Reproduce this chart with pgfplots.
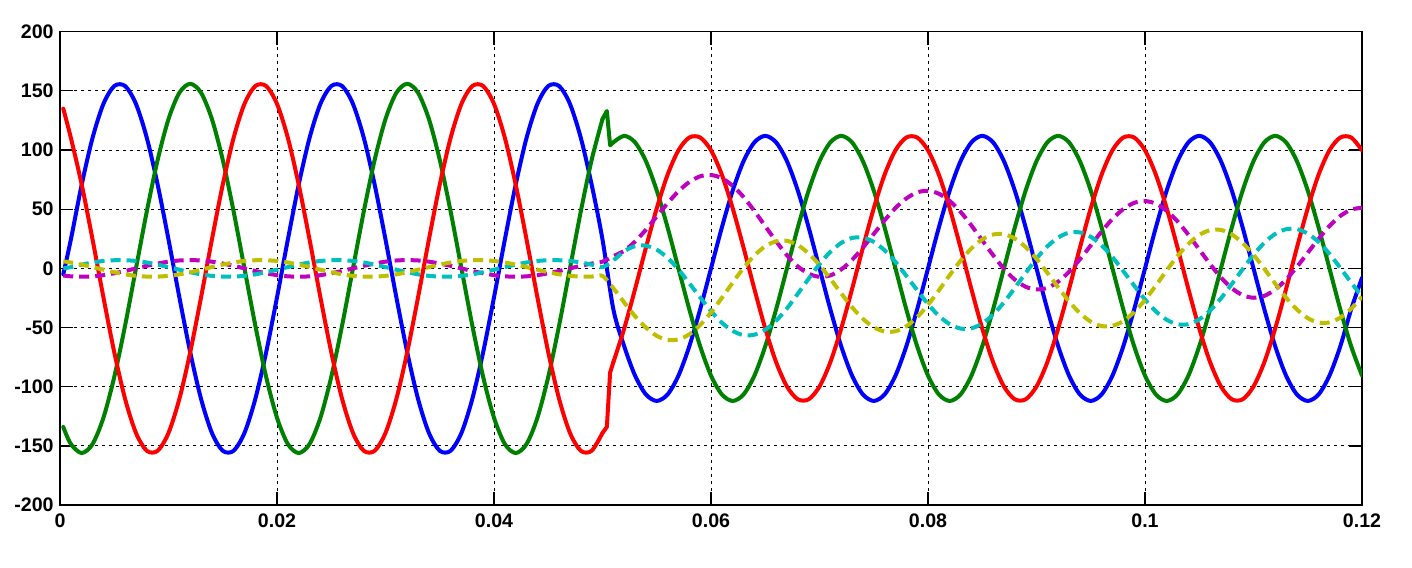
\documentclass[border=0pt]{standalone}
\usepackage{fontspec}
\setmainfont{Liberation Sans}
\usepackage{pgfplots}
\usepackage{pgfplotstable}
\pgfplotsset{compat=1.18}
\definecolor{mblue}{rgb}{0,0,1}
\definecolor{mgreen}{rgb}{0,0.5,0}
\definecolor{mred}{rgb}{1,0,0}
\definecolor{mmag}{rgb}{0.75,0,0.75}
\definecolor{mcyan}{rgb}{0,0.75,0.75}
\definecolor{myel}{rgb}{0.75,0.75,0}

% t [s], three phase currents (b g r) and three dashed signals (m c y)
\pgfplotstableread{
t b g r m c y
0.0003 -5 -134 135 -6 0 6
0.001 24.4 -148.4 110.3 -6.7 1.1 5.0
0.002 70.8 -156 70.8 -7.0 3.2 3.2
0.003 110.3 -148.4 24.4 -6.7 5.0 1.1
0.004 139.0 -126.2 -24.4 -5.7 6.3 -1.1
0.005 154.1 -91.7 -70.8 -4.1 6.9 -3.2
0.006 154.1 -48.2 -110.3 -2.2 6.9 -5.0
0.007 139.0 0 -139.0 0 6.3 -6.3
0.008 110.3 48.2 -154.1 2.2 5.0 -6.9
0.009 70.8 91.7 -154.1 4.1 3.2 -6.9
0.010 24.4 126.2 -139.0 5.7 1.1 -6.3
0.011 -24.4 148.4 -110.3 6.7 -1.1 -5.0
0.012 -70.8 156 -70.8 7.0 -3.2 -3.2
0.013 -110.3 148.4 -24.4 6.7 -5.0 -1.1
0.014 -139.0 126.2 24.4 5.7 -6.3 1.1
0.015 -154.1 91.7 70.8 4.1 -6.9 3.2
0.016 -154.1 48.2 110.3 2.2 -6.9 5.0
0.017 -139.0 0 139.0 0 -6.3 6.3
0.018 -110.3 -48.2 154.1 -2.2 -5.0 6.9
0.019 -70.8 -91.7 154.1 -4.1 -3.2 6.9
0.020 -24.4 -126.2 139.0 -5.7 -1.1 6.3
0.021 24.4 -148.4 110.3 -6.7 1.1 5.0
0.022 70.8 -156 70.8 -7.0 3.2 3.2
0.023 110.3 -148.4 24.4 -6.7 5.0 1.1
0.024 139.0 -126.2 -24.4 -5.7 6.3 -1.1
0.025 154.1 -91.7 -70.8 -4.1 6.9 -3.2
0.026 154.1 -48.2 -110.3 -2.2 6.9 -5.0
0.027 139.0 0 -139.0 0 6.3 -6.3
0.028 110.3 48.2 -154.1 2.2 5.0 -6.9
0.029 70.8 91.7 -154.1 4.1 3.2 -6.9
0.030 24.4 126.2 -139.0 5.7 1.1 -6.3
0.031 -24.4 148.4 -110.3 6.7 -1.1 -5.0
0.032 -70.8 156 -70.8 7.0 -3.2 -3.2
0.033 -110.3 148.4 -24.4 6.7 -5.0 -1.1
0.034 -139.0 126.2 24.4 5.7 -6.3 1.1
0.035 -154.1 91.7 70.8 4.1 -6.9 3.2
0.036 -154.1 48.2 110.3 2.2 -6.9 5.0
0.037 -139.0 0 139.0 0 -6.3 6.3
0.038 -110.3 -48.2 154.1 -2.2 -5.0 6.9
0.039 -70.8 -91.7 154.1 -4.1 -3.2 6.9
0.040 -24.4 -126.2 139.0 -5.7 -1.1 6.3
0.041 24.4 -148.4 110.3 -6.7 1.1 5.0
0.042 70.8 -156 70.8 -7.0 3.2 3.2
0.043 110.3 -148.4 24.4 -6.7 5.0 1.1
0.044 139.0 -126.2 -24.4 -5.7 6.3 -1.1
0.045 154.1 -91.7 -70.8 -4.1 6.9 -3.2
0.046 154.1 -48.2 -110.3 -2.2 6.9 -5.0
0.047 139.0 0 -139.0 0 6.3 -6.3
0.048 110.3 48.2 -154.1 2.2 5.0 -6.9
0.049 70.8 91.7 -154.1 4.1 3.2 -6.9
0.050 24.4 126.2 -139.0 5.7 1.1 -6.3
0.051 -34.6 106.5 -79.2 10.3 6.8 -16.7
0.052 -65.8 112 -50.8 14.9 14.5 -28.8
0.053 -90.6 106.5 -17.5 22.7 18.8 -40.4
0.054 -106.5 90.6 17.5 32.7 19.2 -50.0
0.055 -112 65.8 50.8 43.9 15.8 -57.0
0.056 -106.5 34.6 79.2 55.1 8.9 -60.4
0.057 -90.6 0 99.8 65.2 -0.9 -60.0
0.058 -65.8 -34.6 110.6 73.0 -12.5 -55.7
0.059 -34.6 -65.8 110.6 77.8 -24.5 -47.8
0.060 0 -90.6 99.8 78.9 -36.1 -37.3
0.061 34.6 -106.5 79.2 76.2 -45.9 -24.9
0.062 65.8 -112 50.8 69.8 -52.8 -12.0
0.063 90.6 -106.5 17.5 60.3 -56.4 0.4
0.064 106.5 -90.6 -17.5 48.5 -56.0 10.9
0.065 112 -65.8 -50.8 35.7 -51.8 18.7
0.066 106.5 -34.6 -79.2 22.9 -44.2 22.9
0.067 90.6 0 -99.8 11.1 -33.8 23.3
0.068 65.8 34.6 -110.6 1.7 -21.4 19.7
0.069 34.6 65.8 -110.6 -4.5 -8.7 12.6
0.070 0 90.6 -99.8 -7.1 3.6 2.9
0.071 -34.6 106.5 -79.2 -5.9 14.0 -8.8
0.072 -65.8 112 -50.8 -0.9 21.5 -21.1
0.073 -90.6 106.5 -17.5 7.2 25.7 -32.8
0.074 -106.5 90.6 17.5 17.6 26.0 -42.6
0.075 -112 65.8 50.8 29.1 22.4 -49.7
0.076 -106.5 34.6 79.2 40.6 15.3 -53.3
0.077 -90.6 0 99.8 51.0 5.5 -53.1
0.078 -65.8 -34.6 110.6 59.1 -6.3 -48.9
0.079 -34.6 -65.8 110.6 64.2 -18.4 -41.2
0.080 0 -90.6 99.8 65.6 -30.2 -30.8
0.081 34.6 -106.5 79.2 63.1 -40.1 -18.6
0.082 65.8 -112 50.8 57.0 -47.1 -5.7
0.083 90.6 -106.5 17.5 47.8 -50.8 6.5
0.084 106.5 -90.6 -17.5 36.3 -50.6 16.9
0.085 112 -65.8 -50.8 23.7 -46.5 24.5
0.086 106.5 -34.6 -79.2 11.2 -39.0 28.6
0.087 90.6 0 -99.8 -0.3 -28.7 28.9
0.088 65.8 34.6 -110.6 -9.5 -16.5 25.2
0.089 34.6 65.8 -110.6 -15.5 -3.9 18.0
0.090 0 90.6 -99.8 -17.8 8.3 8.1
0.091 -34.6 106.5 -79.2 -16.4 18.6 -3.7
0.092 -65.8 112 -50.8 -11.2 26.1 -16.1
0.093 -90.6 106.5 -17.5 -2.9 30.2 -27.9
0.094 -106.5 90.6 17.5 7.7 30.4 -37.8
0.095 -112 65.8 50.8 19.4 26.7 -45.0
0.096 -106.5 34.6 79.2 31.2 19.5 -48.7
0.097 -90.6 0 99.8 41.8 9.6 -48.5
0.098 -65.8 -34.6 110.6 50.1 -2.3 -44.5
0.099 -34.6 -65.8 110.6 55.4 -14.5 -36.9
0.100 0 -90.6 99.8 56.9 -26.3 -26.6
0.101 34.6 -106.5 79.2 54.7 -36.3 -14.5
0.102 65.8 -112 50.8 48.7 -43.4 -1.7
0.103 90.6 -106.5 17.5 39.7 -47.2 10.5
0.104 106.5 -90.6 -17.5 28.4 -47.1 20.7
0.105 112 -65.8 -50.8 16.0 -43.0 28.3
0.106 106.5 -34.6 -79.2 3.6 -35.6 32.3
0.107 90.6 0 -99.8 -7.7 -25.3 32.5
0.108 65.8 34.6 -110.6 -16.7 -13.2 28.7
0.109 34.6 65.8 -110.6 -22.6 -0.7 21.5
0.110 0 90.6 -99.8 -24.8 11.5 11.5
0.111 -34.6 106.5 -79.2 -23.2 21.7 -0.4
0.112 -65.8 112 -50.8 -17.8 29.1 -12.8
0.113 -90.6 106.5 -17.5 -9.4 33.1 -24.7
0.114 -106.5 90.6 17.5 1.3 33.2 -34.7
0.115 -112 65.8 50.8 13.2 29.4 -42.0
0.116 -106.5 34.6 79.2 25.0 22.3 -45.7
0.117 -90.6 0 99.8 35.8 12.3 -45.6
0.118 -65.8 -34.6 110.6 44.3 0.4 -41.6
0.119 -34.6 -65.8 110.6 49.6 -11.9 -34.1
0.120 -8 -90.6 99.8 51.3 -23.8 -23.9
}\data

\begin{document}
\begin{tikzpicture}
\path[use as bounding box] (-30pt,-31pt) rectangle (675.85pt,252.5pt);
\begin{axis}[
  at={(0,0)}, anchor=south west,
  scale only axis, width=650.85pt, height=236.65pt,
  xmin=0, xmax=0.12, ymin=-200, ymax=200,
  xtick={0,0.02,0.04,0.06,0.08,0.1,0.12},
  xticklabels={0,0.02,0.04,0.06,0.08,0.1,0.12},
  ytick={-200,-150,-100,-50,0,50,100,150,200},
  yticklabels={-200,-150,-100,-50,0,50,100,150,200},
  scaled ticks=false,
  grid=major,
  major grid style={black, line width=0.45pt, dash pattern=on 1.5pt off 2pt},
  tick align=inside, xtick pos=both, ytick pos=both,
  xticklabel pos=lower, yticklabel pos=left,
  major tick length=6.5pt,
  tick style={black, line width=0.6pt},
  axis line style={black, line width=0.7pt},
  ticklabel style={font=\bfseries\fontsize{9.8}{11}\selectfont, inner sep=0pt},
  yticklabel style={xshift=-3pt},
  xticklabel style={yshift=-4pt},
  every axis plot/.append style={line width=2pt, line join=round},
]
% solid phase currents
\addplot[mblue, smooth, line cap=round] table[x=t, y=b] {\data};
\addplot[mgreen, smooth, line cap=round, restrict x to domain=0:0.0501] table[x=t, y=g] {\data};
\addplot[mgreen, line cap=round] coordinates {(0.050,126.2) (0.0504,133) (0.0507,104) (0.051,106.5)};
\addplot[mgreen, smooth, line cap=round, restrict x to domain=0.0505:0.13] table[x=t, y=g] {\data};
\addplot[mred, smooth, line cap=round, restrict x to domain=0:0.0501] table[x=t, y=r] {\data};
\addplot[mred, line cap=round] coordinates {(0.050,-139.0) (0.0504,-134) (0.0507,-88) (0.051,-79.2)};
\addplot[mred, smooth, line cap=round, restrict x to domain=0.0505:0.13] table[x=t, y=r] {\data};
% dashed signals
\addplot[mmag, smooth, dash pattern=on 5pt off 3pt] table[x=t, y=m] {\data};
\addplot[mcyan, smooth, dash pattern=on 5pt off 3pt] table[x=t, y=c] {\data};
\addplot[myel, smooth, dash pattern=on 5pt off 3pt] table[x=t, y=y] {\data};
\end{axis}
\end{tikzpicture}
\end{document}
